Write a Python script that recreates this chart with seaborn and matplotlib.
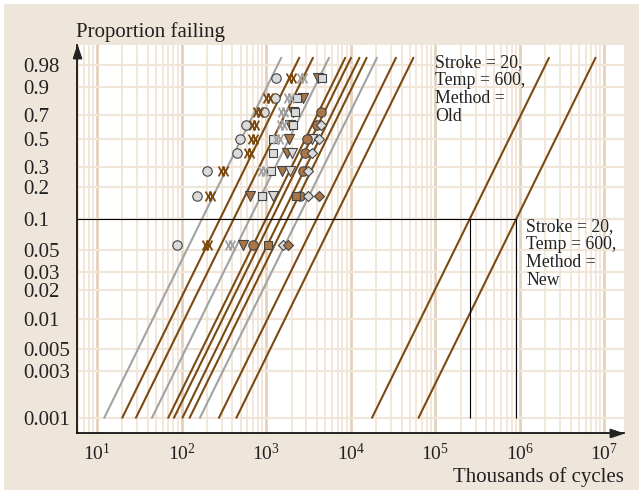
import numpy as np
import pandas as pd
import matplotlib
matplotlib.use("Agg")
import matplotlib.pyplot as plt
from matplotlib.path import Path
from matplotlib.patches import Rectangle
from matplotlib.ticker import LogLocator, FixedLocator, FixedFormatter, NullLocator
import seaborn as sns

sns.set_style("white")
plt.rcParams["font.family"] = ["Liberation Serif", "DejaVu Serif"]
plt.rcParams["mathtext.fontset"] = "custom"
plt.rcParams["mathtext.rm"] = "Liberation Serif"
plt.rcParams["mathtext.it"] = "Liberation Serif:italic"
plt.rcParams["mathtext.bf"] = "Liberation Serif:bold"

# ---- fitted Weibull lines (common shape, one characteristic life each) ----
shape = 1.75
eta = [631, 1030, 1496, 2317, 3606, 4217, 5309, 6457, 8551, 14350, 23070,
       926800, 3290000]
line_kind = ["gray", "brown", "brown", "gray", "brown", "brown", "brown",
             "brown", "gray", "brown", "brown", "brown", "brown"]
p_low, p_high = 0.001, 0.99
ref_p = 0.1

# ---- observed failures (thousands of cycles, plotting position) ----
gray_circle_t = [89, 151, 202, 449, 491, 578, 944, 1274, 1310]
gray_circle_p = [0.056, 0.167, 0.278, 0.389, 0.5, 0.611, 0.722, 0.833, 0.944]
brown_xx_t = [202, 217, 312, 632, 695, 720, 813, 1052, 1987]
brown_xx_p = [0.056, 0.167, 0.278, 0.389, 0.5, 0.611, 0.722, 0.833, 0.944]
gray_xx_t = [374, 927, 1384, 1530, 1597, 1866, 2635]
gray_xx_p = [0.056, 0.278, 0.5, 0.611, 0.722, 0.833, 0.944]
brown_tri_t = [537, 646, 1530, 1755, 1881, 1917, 2098, 2755, 4140]
brown_tri_p = [0.056, 0.167, 0.278, 0.389, 0.5, 0.611, 0.722, 0.833, 0.944]
gray_square_t = [886, 1140, 1196, 1216, 2098, 2198, 2302, 4549]
gray_square_p = [0.167, 0.278, 0.389, 0.5, 0.611, 0.722, 0.833, 0.944]
gray_tri_t = [1216, 1917, 2009, 3459]
gray_tri_p = [0.167, 0.278, 0.389, 0.5]
brown_circle_t = [707, 2518, 2755, 2886, 3023, 3966, 4456]
brown_circle_p = [0.056, 0.167, 0.278, 0.389, 0.5, 0.611, 0.722]
brown_square_t = [1045, 2240]
brown_square_p = [0.056, 0.167]
gray_diamond_t = [1597, 3105, 3158, 3459, 4259, 4456]
gray_diamond_p = [0.056, 0.167, 0.278, 0.389, 0.5, 0.611]
brown_diamond_t = [1800, 4225]
brown_diamond_p = [0.056, 0.167]

y_ticks = [0.001, 0.003, 0.005, 0.01, 0.02, 0.03, 0.05, 0.1, 0.2, 0.3, 0.5,
           0.7, 0.9, 0.98]
y_tick_labels = ["0.001", "0.003", "0.005", "0.01", "0.02", "0.03", "0.05",
                 "0.1", "0.2", "0.3", "0.5", "0.7", "0.9", "0.98"]
x_ticks = [1e1, 1e2, 1e3, 1e4, 1e5, 1e6, 1e7]

# ---- colours ----
BG = "#EEE5DB"
GRID_MINOR = "#F1E5D7"
GRID_MAJOR = "#E3D1BC"
BROWN = "#7A4A12"
GRAY = "#A2A2A2"
FILL_GRAY = "#DADADA"
FILL_BROWN = "#A97647"
EDGE = "#444444"
kind_color = {"gray": GRAY, "brown": BROWN}


def weib_fwd(p):
    p = np.asarray(p, dtype=float)
    with np.errstate(all="ignore"):
        return np.log(-np.log1p(-p))


def weib_inv(w):
    w = np.asarray(w, dtype=float)
    with np.errstate(all="ignore"):
        return -np.expm1(-np.exp(w))


def weib_quantile(p, scale):
    return scale * (-np.log1p(-p)) ** (1.0 / shape)


W, H = 639, 490
fig = plt.figure(figsize=(W / 100, H / 100), dpi=100)
fig.patch.set_facecolor("white")
fig.patches.append(Rectangle((4 / W, 0), 1, (H - 4) / H, transform=fig.transFigure,
                             facecolor=BG, edgecolor="none", zorder=-10))

ax = fig.add_axes([77 / W, (H - 433) / H, 547 / W, 388 / H])
ax.set_facecolor("white")
ax.set_xscale("log")
ax.set_yscale("function", functions=(weib_fwd, weib_inv))
ax.set_xlim(5.8, 1.71e7)
ax.set_ylim(7.0e-4, 0.998)

# fitted lines
rows = []
for i, (sc, kind) in enumerate(zip(eta, line_kind)):
    for p in (p_low, p_high):
        rows.append({"t": weib_quantile(p, sc), "p": p, "line": f"L{i:02d}"})
lines_df = pd.DataFrame(rows)
line_palette = {f"L{i:02d}": kind_color[k] for i, k in enumerate(line_kind)}
sns.lineplot(data=lines_df, x="t", y="p", hue="line", palette=line_palette,
             estimator=None, sort=False, legend=False, linewidth=1.5, ax=ax,
             zorder=2)

# B10 reference lines for the two right-hand groups
b10_old = weib_quantile(ref_p, eta[-2])
b10_new = weib_quantile(ref_p, eta[-1])
ax.hlines(ref_p, 5.8, b10_new, color="black", lw=0.8, zorder=2.5)
ax.vlines([b10_old, b10_new], p_low, ref_p, color="black", lw=0.8, zorder=2.5)

# filled point markers
filled = [
    ("gray_circle", gray_circle_t, gray_circle_p, "o", FILL_GRAY),
    ("brown_tri", brown_tri_t, brown_tri_p, "v", FILL_BROWN),
    ("gray_square", gray_square_t, gray_square_p, "s", FILL_GRAY),
    ("gray_tri", gray_tri_t, gray_tri_p, "v", FILL_GRAY),
    ("brown_circle", brown_circle_t, brown_circle_p, "o", FILL_BROWN),
    ("brown_square", brown_square_t, brown_square_p, "s", FILL_BROWN),
    ("gray_diamond", gray_diamond_t, gray_diamond_p, "D", FILL_GRAY),
    ("brown_diamond", brown_diamond_t, brown_diamond_p, "D", FILL_BROWN),
]
marker_size = {"o": 46, "v": 52, "s": 32, "D": 26}
for name, ts, ps, mk, fc in filled:
    sns.scatterplot(x=ts, y=ps, marker=mk, s=marker_size[mk], color=fc,
                    edgecolor=EDGE, linewidth=0.8, legend=False, ax=ax,
                    zorder=3)

# double-cross markers
xx_verts = [(-1, -1), (0.2, 1), (-1, 1), (0.2, -1),
            (-0.2, -1), (1, 1), (-0.2, 1), (1, -1)]
xx_codes = [Path.MOVETO, Path.LINETO] * 4
xx_marker = Path(xx_verts, xx_codes)
for ts, ps, col in ((brown_xx_t, brown_xx_p, BROWN), (gray_xx_t, gray_xx_p, GRAY)):
    sns.scatterplot(x=ts, y=ps, marker=xx_marker, s=50, color=col,
                    edgecolor=col, linewidth=1.3, legend=False, ax=ax, zorder=3)

# axes styling
ax.set_axisbelow(True)
ax.xaxis.set_major_locator(FixedLocator(x_ticks))
ax.xaxis.set_minor_locator(LogLocator(base=10, subs=np.arange(2, 10), numticks=20))
ax.yaxis.set_major_locator(FixedLocator(y_ticks))
ax.yaxis.set_major_formatter(FixedFormatter(y_tick_labels))
ax.yaxis.set_minor_locator(NullLocator())
ax.grid(True, which="minor", axis="x", color=GRID_MINOR, lw=1.3)
ax.grid(True, which="major", axis="x", color=GRID_MAJOR, lw=2.0)
ax.grid(True, which="major", axis="y", color=GRID_MINOR, lw=1.5)

for side in ("top", "right"):
    ax.spines[side].set_visible(False)
for side in ("left", "bottom"):
    ax.spines[side].set_color("black")
    ax.spines[side].set_linewidth(1.2)

ax.tick_params(axis="both", which="both", length=0)
ax.tick_params(axis="y", labelsize=15, pad=39)
ax.tick_params(axis="x", labelsize=14, pad=7, colors="#222222")
for lbl in ax.get_yticklabels():
    lbl.set_horizontalalignment("left")
    lbl.set_color("#222222")
ax.set_xlabel("")
ax.set_ylabel("")

# axis arrows
up = Path([(-0.33, -0.5), (0.33, -0.5), (0, 0.5), (-0.33, -0.5)])
right = Path([(-0.5, -0.33), (-0.5, 0.33), (0.5, 0), (-0.5, -0.33)])
ax.plot([0], [0.981], marker=up, markersize=9, color="#222222",
        transform=ax.transAxes, clip_on=False, zorder=6)
ax.plot([0.9854], [0], marker=right, markersize=9, color="#222222",
        transform=ax.transAxes, clip_on=False, zorder=6)

# titles and annotations
fig.text(76 / W, (H - 37.5) / H, "Proportion failing", fontsize=15,
         ha="left", va="baseline", color="#222222")
fig.text(624 / W, (H - 481.5) / H, "Thousands of cycles", fontsize=15,
         ha="right", va="baseline", color="#222222")
ax.text((435 - 77) / 547, (433 - 54) / 388,
        "Stroke = 20,\nTemp = 600,\nMethod =\nOld",
        transform=ax.transAxes, fontsize=12.8, linespacing=1.07,
        ha="left", va="top", color="#222222", zorder=5)
ax.text((526.5 - 77) / 547, (433 - 218) / 388,
        "Stroke = 20,\nTemp = 600,\nMethod =\nNew",
        transform=ax.transAxes, fontsize=12.8, linespacing=1.07,
        ha="left", va="top", color="#222222", zorder=5)

fig.savefig("out.png", dpi=100, facecolor=fig.get_facecolor())
